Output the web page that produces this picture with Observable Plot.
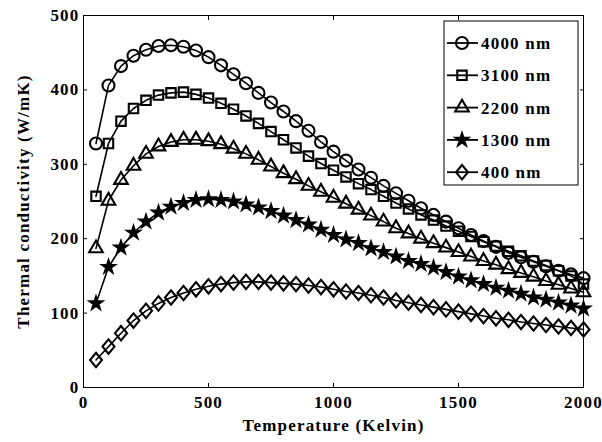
<!DOCTYPE html>
<html>
<head>
<meta charset="utf-8">
<script src="https://cdn.jsdelivr.net/npm/d3@7"></script>
<script src="https://cdn.jsdelivr.net/npm/@observablehq/plot@0.6"></script>
<style>
  body { margin: 0; background: #fff; }
  #chart { width: 602px; height: 442px; }
  #chart svg text { letter-spacing: 1.2px; }
</style>
</head>
<body>
<div id="chart"></div>
<script>
// Temperature samples (K)
const temperature = [50, 100, 150, 200, 250, 300, 350, 400, 450, 500,
  550, 600, 650, 700, 750, 800, 850, 900, 950, 1000,
  1050, 1100, 1150, 1200, 1250, 1300, 1350, 1400, 1450, 1500,
  1550, 1600, 1650, 1700, 1750, 1800, 1850, 1900, 1950, 2000];

// Thermal conductivity (W/mK) for each film thickness
const k4000 = [328, 406, 432, 446, 454, 459, 460, 458, 453, 444,
  433, 421, 409, 396, 383, 371, 358, 345, 330, 317,
  305, 293, 282, 271, 261, 251, 241, 232, 223, 214,
  205, 197, 189, 181, 175, 169, 163, 157, 152, 147];
const k3100 = [257, 328, 358, 375, 386, 393, 396, 397, 394, 389,
  382, 374, 365, 355, 344, 333, 322, 311, 301, 292,
  283, 274, 266, 257, 248, 240, 232, 225, 217, 210,
  203, 196, 190, 183, 177, 170, 164, 157, 150, 139];
const k2200 = [187, 251, 279, 298, 314, 324, 330, 333, 333, 331,
  327, 321, 314, 306, 297, 288, 280, 271, 263, 255,
  247, 239, 231, 223, 214, 207, 200, 194, 188, 182,
  176, 170, 165, 159, 154, 149, 143, 138, 133, 128];
const k1300 = [113, 162, 188, 208, 223, 235, 243, 248, 252, 253,
  252, 250, 246, 242, 237, 231, 225, 219, 212, 205,
  199, 194, 187, 182, 176, 170, 166, 161, 155, 149,
  144, 139, 134, 130, 126, 121, 118, 114, 110, 106];
const k400 = [37, 55, 73, 90, 103, 113, 121, 127, 132, 136,
  139, 141, 142, 142, 141, 140, 139, 137, 135, 132,
  129, 127, 124, 121, 117, 114, 111, 108, 105, 102,
  99, 96, 93, 91, 88, 86, 84, 82, 80, 78];

const seriesNames = ["4000 nm", "3100 nm", "2200 nm", "1300 nm", "400 nm"];
const seriesValues = [k4000, k3100, k2200, k1300, k400];

const xTicks = [0, 500, 1000, 1500, 2000];
const yTicks = [0, 100, 200, 300, 400, 500];

// Slightly tall open diamond marker
const diamondTall = {
  draw(context, size) {
    const r = Math.sqrt(size / Math.PI);
    const w = r * 1.0, h = r * 1.2;
    context.moveTo(0, -h);
    context.lineTo(w, 0);
    context.lineTo(0, h);
    context.lineTo(-w, 0);
    context.closePath();
  }
};
const symbolTypes = [d3.symbolCircle, d3.symbolSquare2, d3.symbolTriangle2, d3.symbolStar, diamondTall];
const symbolRadius = [6, 6, 6.5, 3.9, 6];
const symbolFilled = [false, false, false, true, false];

const rows = [];
seriesNames.forEach((name, i) => {
  seriesValues[i].forEach((v, j) => rows.push({series: name, idx: i, T: temperature[j], k: v}));
});

const font = "'Liberation Serif', 'DejaVu Serif', serif";
const tickFont = 17;
const fmt = d3.format("d");

const marks = [
  Plot.frame({stroke: "black", strokeWidth: 1}),
  // inward ticks on all four sides
  Plot.axisX(xTicks, {anchor: "bottom", text: null, tickSize: 4, dy: -4, label: null}),
  Plot.axisX(xTicks, {anchor: "top", text: null, tickSize: 4, dy: 4, label: null}),
  Plot.axisY(yTicks, {anchor: "left", text: null, tickSize: 4, dx: 4, label: null}),
  Plot.axisY(yTicks, {anchor: "right", text: null, tickSize: 4, dx: -4, label: null}),
  // tick labels and titles
  Plot.axisX(xTicks, {anchor: "bottom", tickSize: 0, tickPadding: 8, fontSize: tickFont, fontWeight: "bold",
    tickFormat: fmt,
    label: "Temperature (Kelvin)", labelAnchor: "center", labelArrow: "none", labelOffset: 43}),
  Plot.axisY(yTicks, {anchor: "left", tickSize: 0, tickPadding: 4, fontSize: tickFont, fontWeight: "bold",
    tickFormat: fmt,
    label: "Thermal conductivity (W/mK)", labelAnchor: "center", labelArrow: "none", labelOffset: 67}),
  Plot.line(rows, {x: "T", y: "k", z: "series", stroke: "black", strokeWidth: 1.6})
];
seriesNames.forEach((name, i) => {
  marks.push(Plot.dot(rows.filter(d => d.idx === i), {
    x: "T", y: "k", r: symbolRadius[i], symbol: () => symbolTypes[i],
    stroke: "black", strokeWidth: 2.1,
    fill: symbolFilled[i] ? "black" : "none"
  }));
});

const chart = Plot.plot({
  width: 602,
  height: 442,
  marginLeft: 83,
  marginRight: 19,
  marginTop: 15,
  marginBottom: 55,
  style: {fontFamily: font, fontSize: "18px", fontWeight: "bold", background: "white", color: "black"},
  x: {domain: [0, 2000]},
  y: {domain: [0, 500]},
  symbol: {type: "identity"},
  marks
});
document.getElementById("chart").appendChild(chart);

// Legend box in the upper-right corner of the plot
const svg = d3.select(chart);
const lg = svg.append("g").attr("transform", "translate(444,21)");
lg.append("rect").attr("width", 134).attr("height", 164)
  .attr("fill", "white").attr("stroke", "black").attr("stroke-width", 1);
seriesNames.forEach((name, i) => {
  const cy = 22 + i * 32.3;
  const row = lg.append("g").attr("transform", `translate(0,${cy})`);
  row.append("line").attr("x1", 3).attr("x2", 34).attr("y1", 0).attr("y2", 0)
    .attr("stroke", "black").attr("stroke-width", 1.8);
  row.append("path")
    .attr("transform", "translate(18,0)")
    .attr("d", d3.symbol(symbolTypes[i], Math.PI * symbolRadius[i] * symbolRadius[i])())
    .attr("fill", symbolFilled[i] ? "black" : "none")
    .attr("stroke", "black").attr("stroke-width", 2.1);
  row.append("text").attr("x", 37).attr("y", 0).attr("dy", "0.35em")
    .attr("text-anchor", "start")
    .attr("font-family", font).attr("font-weight", "bold").attr("font-size", 17)
    .text(name);
});
</script>
</body>
</html>
